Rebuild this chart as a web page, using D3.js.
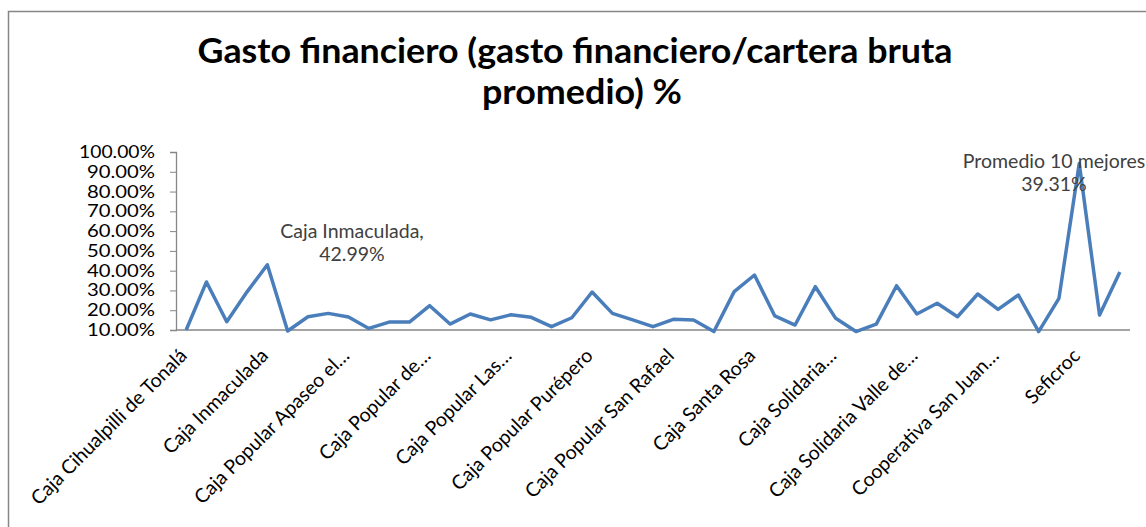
<!DOCTYPE html>
<html>
<head>
<meta charset="utf-8">
<script src="https://cdn.jsdelivr.net/npm/d3@7"></script>
<style>
  body { margin: 0; background: #fff; }
  text { font-family: Lato, "Open Sans", sans-serif; }
</style>
</head>
<body>
<div id="chart"></div>
<script>
// values in %, one per institution (47 in total, the last one is the average)
const values = [10.0, 34.3, 14.2, 29.3, 42.99, 9.5, 16.7, 18.4, 16.6, 10.8,
  14.0, 14.0, 22.3, 13.0, 18.1, 15.1, 17.7, 16.4, 11.7, 16.2,
  29.2, 18.4, 15.1, 11.7, 15.4, 15.1, 9.2, 29.4, 37.8, 17.1,
  12.5, 31.9, 15.9, 9.2, 13.0, 32.4, 18.1, 23.5, 16.7, 28.2,
  20.4, 27.7, 9.2, 26.0, 94.2, 17.6, 39.31];

// only every 4th category name is shown on the axis
const tickLabels = ["Caja Cihualpilli de Tonalá", "Caja Inmaculada", "Caja Popular Apaseo el…",
  "Caja Popular de…", "Caja Popular Las…", "Caja Popular Purépero", "Caja Popular San Rafael",
  "Caja Santa Rosa", "Caja Solidaria…", "Caja Solidaria Valle de…", "Cooperativa San Juan…", "Seficroc"];
const tickStep = 4;

const yTicks = [0.1, 0.2, 0.3, 0.4, 0.5, 0.6, 0.7, 0.8, 0.9, 1.0];

// data labels
const annotations = [
  { index: 4, lines: ["Caja Inmaculada,", "42.99%"] },
  { index: 46, lines: ["Promedio 10 mejores", "39.31%"] }
];

const width = 1146, height = 527;
const fs = "19.5px";

const svg = d3.select("#chart")
    .append("svg")
    .attr("width", width)
    .attr("height", height);

// chart border
svg.append("rect")
    .attr("x", 8.5)
    .attr("y", 11.5)
    .attr("width", 1160)
    .attr("height", 540)
    .attr("fill", "#fff")
    .attr("stroke", "#868686")
    .attr("stroke-width", 1.5);

// title, two lines
const title = svg.append("g")
    .style("font-size", "35px")
    .style("font-weight", "bold")
    .attr("fill", "#000")
    .attr("text-anchor", "middle");
title.append("text").attr("x", 575).attr("y", 63)
    .attr("textLength", 755).attr("lengthAdjust", "spacingAndGlyphs")
    .text("Gasto financiero (gasto financiero/cartera bruta");
title.append("text").attr("x", 582).attr("y", 104)
    .attr("textLength", 200).attr("lengthAdjust", "spacingAndGlyphs")
    .text("promedio) %");

const x = d3.scalePoint()
    .domain(d3.range(values.length))
    .range([176, 1130])
    .padding(0.5);

const y = d3.scaleLinear()
    .domain([0.1, 1.0])
    .range([330, 152]);

// y axis
const yAxis = d3.axisLeft(y)
    .tickValues(yTicks)
    .tickFormat(d3.format(".2%"))
    .tickSize(6)
    .tickPadding(15);

const gy = svg.append("g")
    .attr("transform", "translate(176,0)")
    .call(yAxis);
gy.select(".domain").attr("stroke", "#868686").attr("stroke-width", 1.3);
gy.selectAll(".tick line").attr("stroke", "#868686");
gy.selectAll(".tick text")
    .style("font-size", "17px")
    .attr("textLength", d => d < 1 ? 68 : 76)
    .attr("lengthAdjust", "spacingAndGlyphs")
    .attr("fill", "#000");

// x axis line
svg.append("line")
    .attr("x1", 176).attr("x2", 1130)
    .attr("y1", y(0.1)).attr("y2", y(0.1))
    .attr("stroke", "#868686")
    .attr("stroke-width", 1.3);

// category labels, rotated
svg.selectAll(".cat-label")
    .data(tickLabels)
    .enter()
    .append("text")
    .attr("class", "cat-label")
    .attr("text-anchor", "end")
    .attr("transform", (d, i) => `translate(${x(i * tickStep) + 2},${y(0.1) + 27}) rotate(-45)`)
    .style("font-size", fs)
    .attr("fill", "#000")
    .text(d => d);

// line
const line = d3.line()
    .x((d, i) => x(i))
    .y(d => y(d / 100));

svg.append("path")
    .datum(values)
    .attr("fill", "none")
    .attr("stroke", "#4a7ebb")
    .attr("stroke-width", 3.5)
    .attr("stroke-linejoin", "round")
    .attr("d", line);

// data labels
const labelPos = { 4: [352, 238], 46: [1054, 168] };
annotations.forEach(a => {
    const t = svg.append("text")
        .attr("text-anchor", "middle")
        .style("font-size", fs)
        .attr("fill", "#404040");
    a.lines.forEach((l, j) => {
        t.append("tspan")
            .attr("x", labelPos[a.index][0])
            .attr("y", labelPos[a.index][1] + j * 23)
            .text(l);
    });
});
</script>
</body>
</html>
